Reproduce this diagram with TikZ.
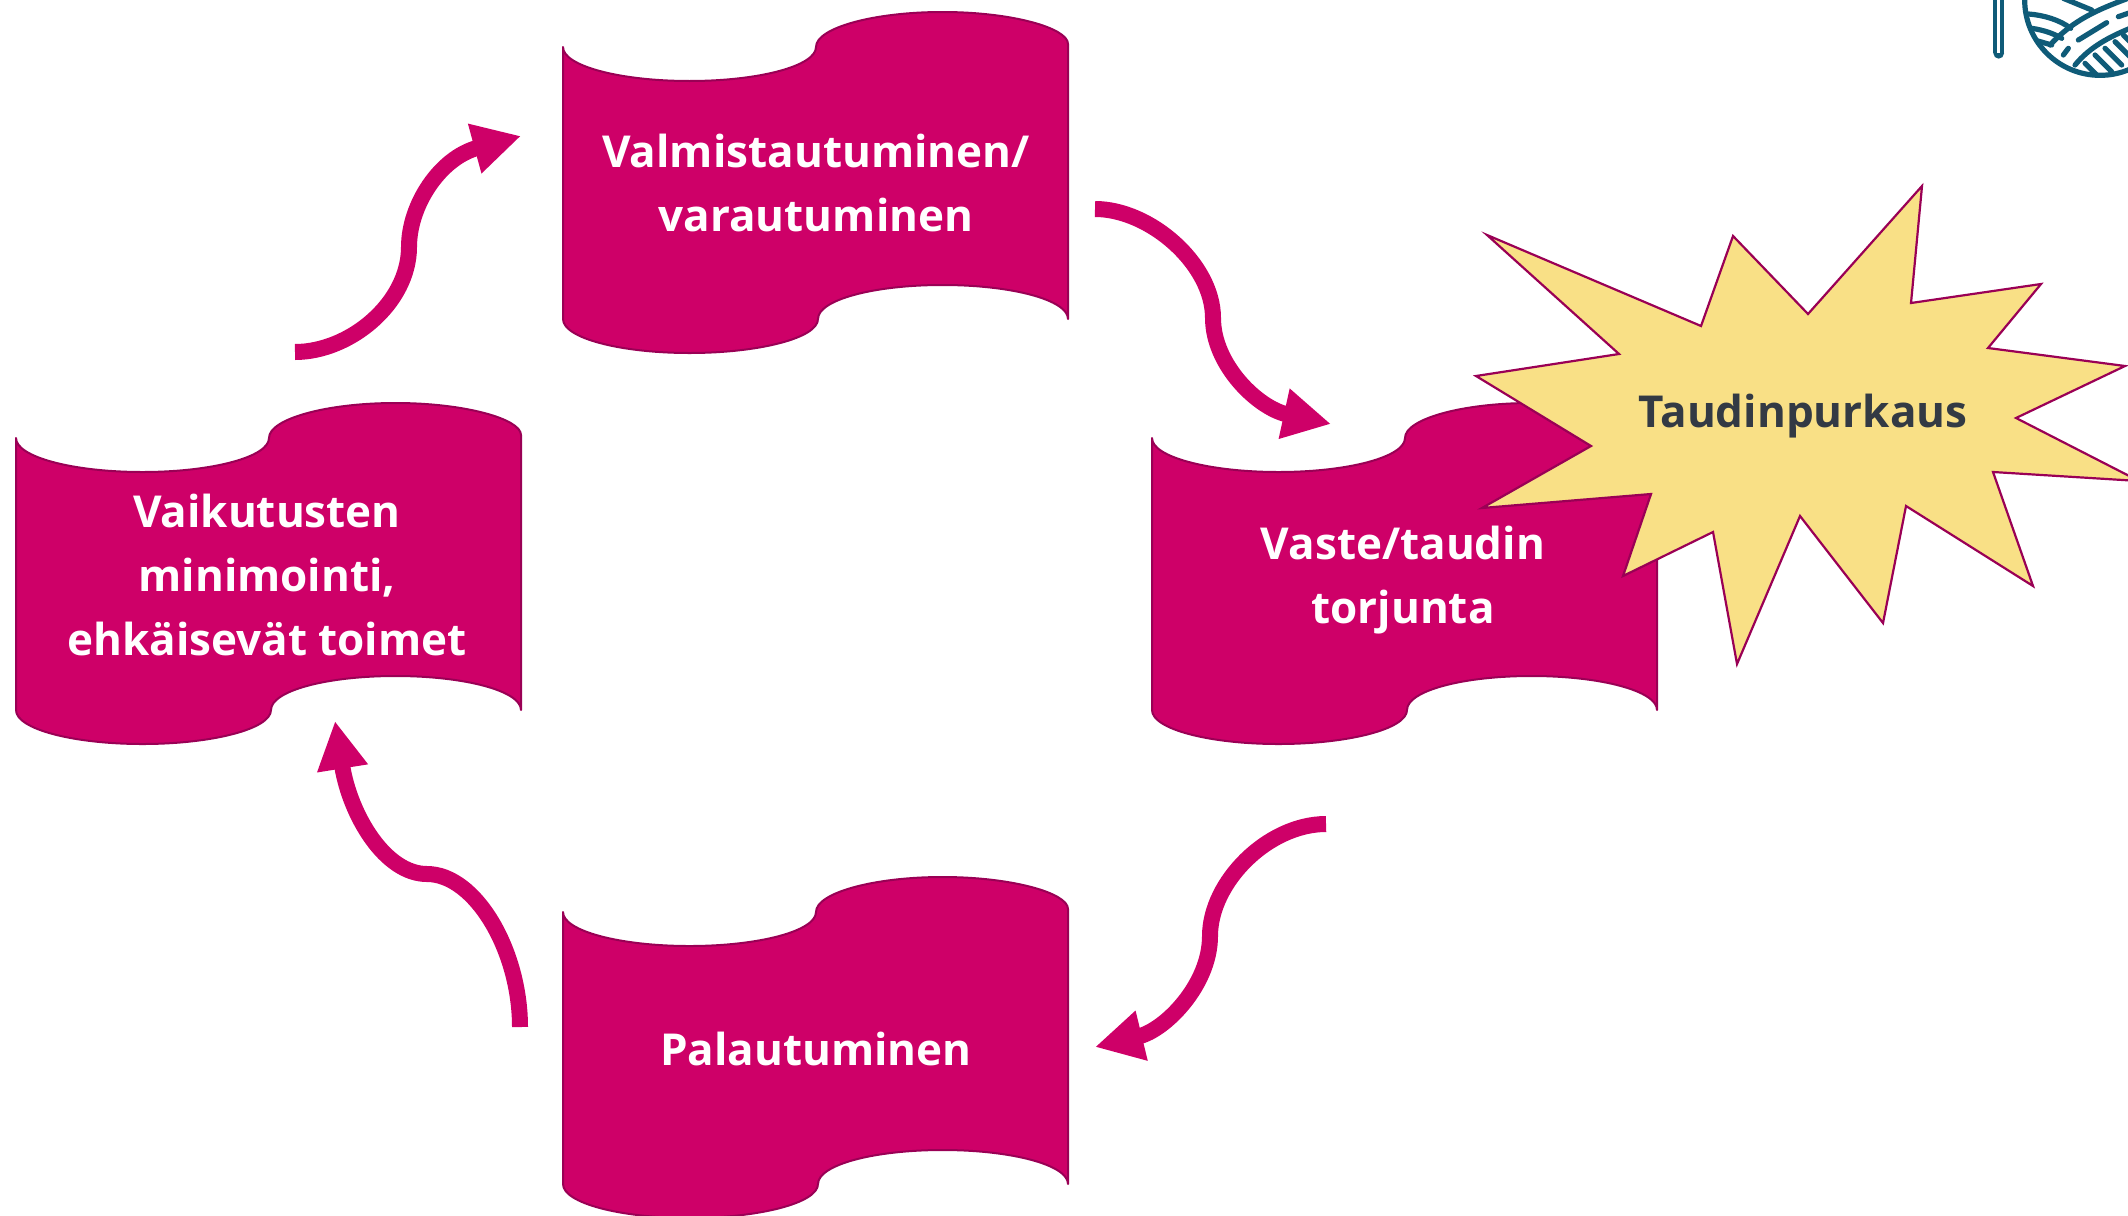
\documentclass[tikz,border=0pt]{standalone}
\usepackage{fontspec}
\setmainfont{Open Sans}
\usetikzlibrary{arrows.meta}
\definecolor{magentab}{HTML}{CE0068}
\definecolor{edgeb}{HTML}{9A0055}
\definecolor{starfill}{HTML}{F9E086}
\definecolor{darktext}{HTML}{333A44}
\definecolor{teal}{HTML}{0F5B78}
\tikzset{
  wavestyle/.style={fill=magentab,draw=edgeb,line width=1pt,line join=round},
  boxtext/.style={text=white,font=\fontsize{22}{32}\selectfont\bfseries,align=center},
  flow/.style={draw=magentab,line width=8pt,-{Triangle[length=24pt,width=24pt]}},
  logoline/.style={draw=teal,line width=2.6pt,line cap=round}
}
\newcommand{\wavebox}[2]{%
  \path[wavestyle,shift={(#1,#2)}] (0,0)
    .. controls (0,19) and (57,34) .. (126.5,34)
    .. controls (196,34) and (253,19) .. (253,0)
    .. controls (253,-19) and (310,-35) .. (379.5,-35)
    .. controls (449,-35) and (505,-19) .. (505,-3)
    -- (505,272)
    .. controls (505,253) and (449,238) .. (379.5,238)
    .. controls (310,238) and (255,253) .. (255,272)
    .. controls (255,291) and (196,306) .. (126.5,306)
    .. controls (57,306) and (0,291) .. (0,272) -- cycle;}
\begin{document}
\begin{tikzpicture}[x=0.5pt,y=-0.5pt]
\useasboundingbox (0,0) rectangle (2128,1215);
\clip (0,0) rectangle (2128,1215);
% logo
\begin{scope}[shift={(1950,0)},x=0.16667pt,y=-0.16667pt]
  \fill[teal] (130,-5) rectangle (162,160);
  \fill[teal] (146,160) circle[radius=16];
  \fill[white] (142,-5) rectangle (150,160);
  \begin{scope}
    \path[fill=white,draw=teal,line width=2.6pt] (450,0) circle[radius=226];
    \clip (450,0) circle[radius=226];
    \draw[logoline] (235,42) .. controls (280,45) and (330,60) .. (362,85);
    \draw[logoline] (245,85) .. controls (280,90) and (310,100) .. (335,115);
    \draw[logoline] (260,122) -- (305,135);
    \draw[logoline] (300,135) .. controls (370,60) and (440,30) .. (534,-5);
    \draw[logoline] (375,195) .. controls (420,140) and (480,110) .. (540,85);
    \draw[logoline] (340,165) -- (355,145);
    \draw[logoline] (385,120) -- (470,68);
    \draw[logoline] (505,50) -- (540,38);
    \draw[logoline] (340,-5) -- (425,30);
    \draw[logoline] (405,190) -- (440,225);
    \draw[logoline] (435,165) -- (485,215);
    \draw[logoline] (465,145) -- (515,195);
    \draw[logoline] (495,125) -- (540,170);
    \draw[logoline] (520,105) -- (545,130);
  \end{scope}
\end{scope}
% boxes
\wavebox{563}{47}
\wavebox{16}{438}
\wavebox{1152}{438}
\wavebox{563}{912}
% burst
\path[fill=starfill,draw=edgeb,line width=1.1pt,line join=miter]
  (1487,235) -- (1701,326) -- (1733,236) -- (1808,314) -- (1922,186) -- (1911,303)
  -- (2041,284) -- (1988,348) -- (2125,366) -- (2016,418) -- (2139,481) -- (1993,472)
  -- (2033,586) -- (1906,506) -- (1883,623) -- (1800,516) -- (1737,664) -- (1713,532)
  -- (1623,576) -- (1651,494) -- (1482,508) -- (1591,446) -- (1476,376) -- (1619,354) -- cycle;
% texts
\node[boxtext] (prep) at (816,183) {Valmistautuminen/\\varautuminen};
\node[boxtext] (impact) at (267,575) {Vaikutusten\\minimointi,\\ehkäisevät toimet};
\node[boxtext] (resp) at (1403,580) {Vaste/taudin\\torjunta};
\node[boxtext] (recov) at (816,1049) {Palautuminen};
\node[boxtext,text=darktext] (burst) at (1803,416) {Taudinpurkaus};
% connector ends
\coordinate (a1s) at (295,352); \coordinate (a1e) at (521,136);
\coordinate (a2s) at (1095,209); \coordinate (a2e) at (1331,424);
\coordinate (a3s) at (1326,824); \coordinate (a3e) at (1095,1047);
\coordinate (a4s) at (520,1027); \coordinate (a4e) at (335,721);
\draw[flow] (a1s) .. controls (350,352) and (409,303) .. (409,247)
   .. controls (409,205) and (440,158) .. (a1e);
\draw[flow] (a2s) .. controls (1150,209) and (1213,264) .. (1213,318)
   .. controls (1213,365) and (1258,408) .. (a2e);
\draw[flow] (a3s) .. controls (1268,824) and (1210,882) .. (1210,936)
   .. controls (1210,985) and (1165,1030) .. (a3e);
\draw[flow] (a4s) .. controls (520,950) and (475,874) .. (427,874)
   .. controls (385,874) and (350,815) .. (a4e);
\end{tikzpicture}
\end{document}
